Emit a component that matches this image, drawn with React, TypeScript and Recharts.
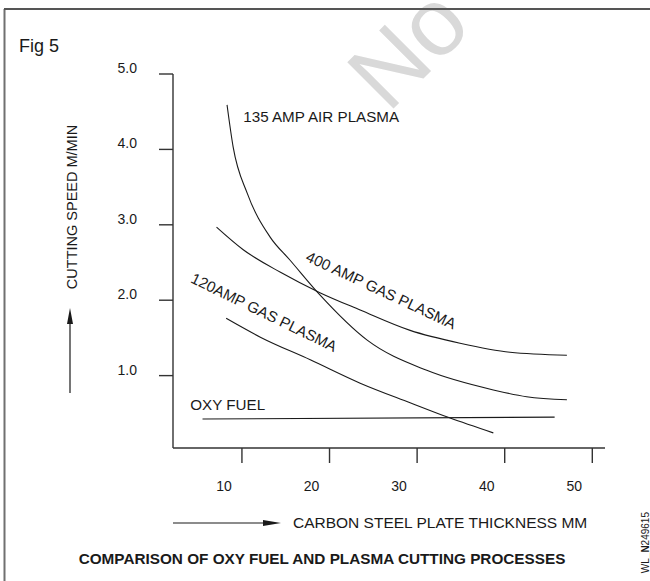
import React from 'react';
import { LineChart, Line, XAxis, YAxis, ReferenceDot } from 'recharts';

// Carbon steel plate thickness (mm) and cutting speed (m/min) per process
const air135Thickness = [8.3, 9.0, 10.6, 13.2, 15.5, 18.9, 24.3, 31.1, 38.7, 42.5, 47.1];
const air135Speed = [4.59, 4.03, 3.42, 2.84, 2.53, 2.07, 1.47, 1.07, 0.81, 0.72, 0.68];

const gas400Thickness = [7.1, 10.15, 14.4, 18.9, 23.5, 29.2, 34.9, 40.6, 47.1];
const gas400Speed = [2.97, 2.67, 2.37, 2.1, 1.87, 1.6, 1.43, 1.31, 1.27];

const gas120Thickness = [8.2, 12.1, 17.8, 23.5, 29.2, 33.7, 38.7];
const gas120Speed = [1.76, 1.51, 1.21, 0.9, 0.64, 0.44, 0.24];

const oxyThickness = [5.5, 45.7];
const oxySpeed = [0.424, 0.45];

const xTicks = [10, 20, 30, 40, 50];
const yTicks = [1, 2, 3, 4, 5];

const toRows = (xs: number[], ys: number[]) => xs.map((x, i) => ({ x, y: ys[i] }));

const air135 = toRows(air135Thickness, air135Speed);
const gas400 = toRows(gas400Thickness, gas400Speed);
const gas120 = toRows(gas120Thickness, gas120Speed);
const oxy = toRows(oxyThickness, oxySpeed);

const FONT = '"Liberation Sans", Arial, Helvetica, sans-serif';
const INK = '#1a1a1a';

const XTick = (props: any) => {
  const { x, y, payload } = props;
  return (
    <text x={x} y={y} dx={-18} dy={28} textAnchor="middle" fontFamily={FONT} fontSize={14} fill={INK}>
      {payload.value}
    </text>
  );
};

const YTick = (props: any) => {
  const { x, y, payload } = props;
  return (
    <text x={x} y={y} dy={-1} textAnchor="end" fontFamily={FONT} fontSize={14} fill={INK}>
      {Number(payload.value).toFixed(1)}
    </text>
  );
};

const makeLabel = (text: string, anchor: string, angle: number) => (p: any) => {
  const vb = p.viewBox || {};
  const cx = (vb.x ?? 0) + (vb.width ?? 0) / 2;
  const cy = (vb.y ?? 0) + (vb.height ?? 0) / 2;
  return (
    <text
      x={cx}
      y={cy}
      textAnchor={anchor as any}
      dominantBaseline="central"
      transform={angle ? `rotate(${angle} ${cx} ${cy})` : undefined}
      fontFamily={FONT}
      fontSize={15.2}
      fill={INK}
    >
      {text}
    </text>
  );
};

export default function App() {
  return (
    <div style={{ position: 'absolute', left: 0, top: 0, width: 650, height: 581, background: '#fff' }}>
      <LineChart
        width={650}
        height={581}
        margin={{ top: 74, right: 45, bottom: 93, left: 113 }}
      >
        <XAxis
          type="number"
          dataKey="x"
          domain={[2.13, 51.45]}
          ticks={xTicks}
          allowDataOverflow
          stroke="#333"
          strokeWidth={1.4}
          tickSize={15}
          tickMargin={0}
          height={40}
          tick={<XTick />}
        />
        <YAxis
          type="number"
          dataKey="y"
          domain={[0.04, 5]}
          ticks={yTicks}
          allowDataOverflow
          stroke="#333"
          strokeWidth={1.4}
          tickSize={14}
          tickMargin={22}
          width={60}
          tick={<YTick />}
        />
        <Line data={air135} dataKey="y" type="monotone" stroke={INK} strokeWidth={1.1} dot={false} isAnimationActive={false} />
        <Line data={gas400} dataKey="y" type="monotone" stroke={INK} strokeWidth={1.1} dot={false} isAnimationActive={false} />
        <Line data={gas120} dataKey="y" type="monotone" stroke={INK} strokeWidth={1.1} dot={false} isAnimationActive={false} />
        <Line data={oxy} dataKey="y" type="linear" stroke={INK} strokeWidth={1.1} dot={false} isAnimationActive={false} />
        <ReferenceDot x={10.15} y={4.43} r={0} stroke="none" fill="none" label={{ content: makeLabel('135 AMP AIR PLASMA', 'start', 0) }} />
        <ReferenceDot x={25.9} y={2.135} r={0} stroke="none" fill="none" label={{ content: makeLabel('400 AMP GAS PLASMA', 'middle', 25) }} />
        <ReferenceDot x={12.54} y={1.84} r={0} stroke="none" fill="none" label={{ content: makeLabel('120AMP GAS PLASMA', 'middle', 26) }} />
        <ReferenceDot x={4.1} y={0.62} r={0} stroke="none" fill="none" label={{ content: makeLabel('OXY FUEL', 'start', 0) }} />
      </LineChart>
      <svg
        width={650}
        height={581}
        style={{ position: 'absolute', left: 0, top: 0, pointerEvents: 'none' }}
      >
        <text x={388} y={114} transform="rotate(-45 388 114)" fontFamily={FONT} fontSize={95} fill="#d9d9d9">
          No
        </text>
        <line x1={4.5} y1={9} x2={4.5} y2={581} stroke="#707070" strokeWidth={2} />
        <line x1={4} y1={9} x2={650} y2={9} stroke="#555" strokeWidth={2} />
        <text x={19} y={52} fontFamily={FONT} fontSize={18} fill={INK}>Fig 5</text>
        <text
          x={72}
          y={207}
          transform="rotate(-90 72 207)"
          textAnchor="middle"
          dominantBaseline="central"
          fontFamily={FONT}
          fontSize={14.5}
          fill={INK}
        >
          CUTTING SPEED M/MIN
        </text>
        <line x1={70} y1={393} x2={70} y2={318} stroke={INK} strokeWidth={1.2} />
        <polygon points="70,308 67,324 73,324" fill={INK} />
        <line x1={173} y1={523} x2={266} y2={523} stroke={INK} strokeWidth={1.2} />
        <polygon points="281,523 263,520 263,526" fill={INK} />
        <text x={293} y={528} fontFamily={FONT} fontSize={15.5} fill={INK}>
          CARBON STEEL PLATE THICKNESS MM
        </text>
        <text x={322} y={564} textAnchor="middle" fontFamily={FONT} fontSize={15.3} fontWeight="bold" fill={INK}>
          COMPARISON OF OXY FUEL AND PLASMA CUTTING PROCESSES
        </text>
        <text
          x={645}
          y={512}
          transform="rotate(-90 645 512)"
          textAnchor="end"
          dominantBaseline="central"
          fontFamily={FONT}
          fontSize={10}
          fill={INK}
        >
          WL_<tspan fontWeight="bold">N</tspan>249615
        </text>
      </svg>
    </div>
  );
}
